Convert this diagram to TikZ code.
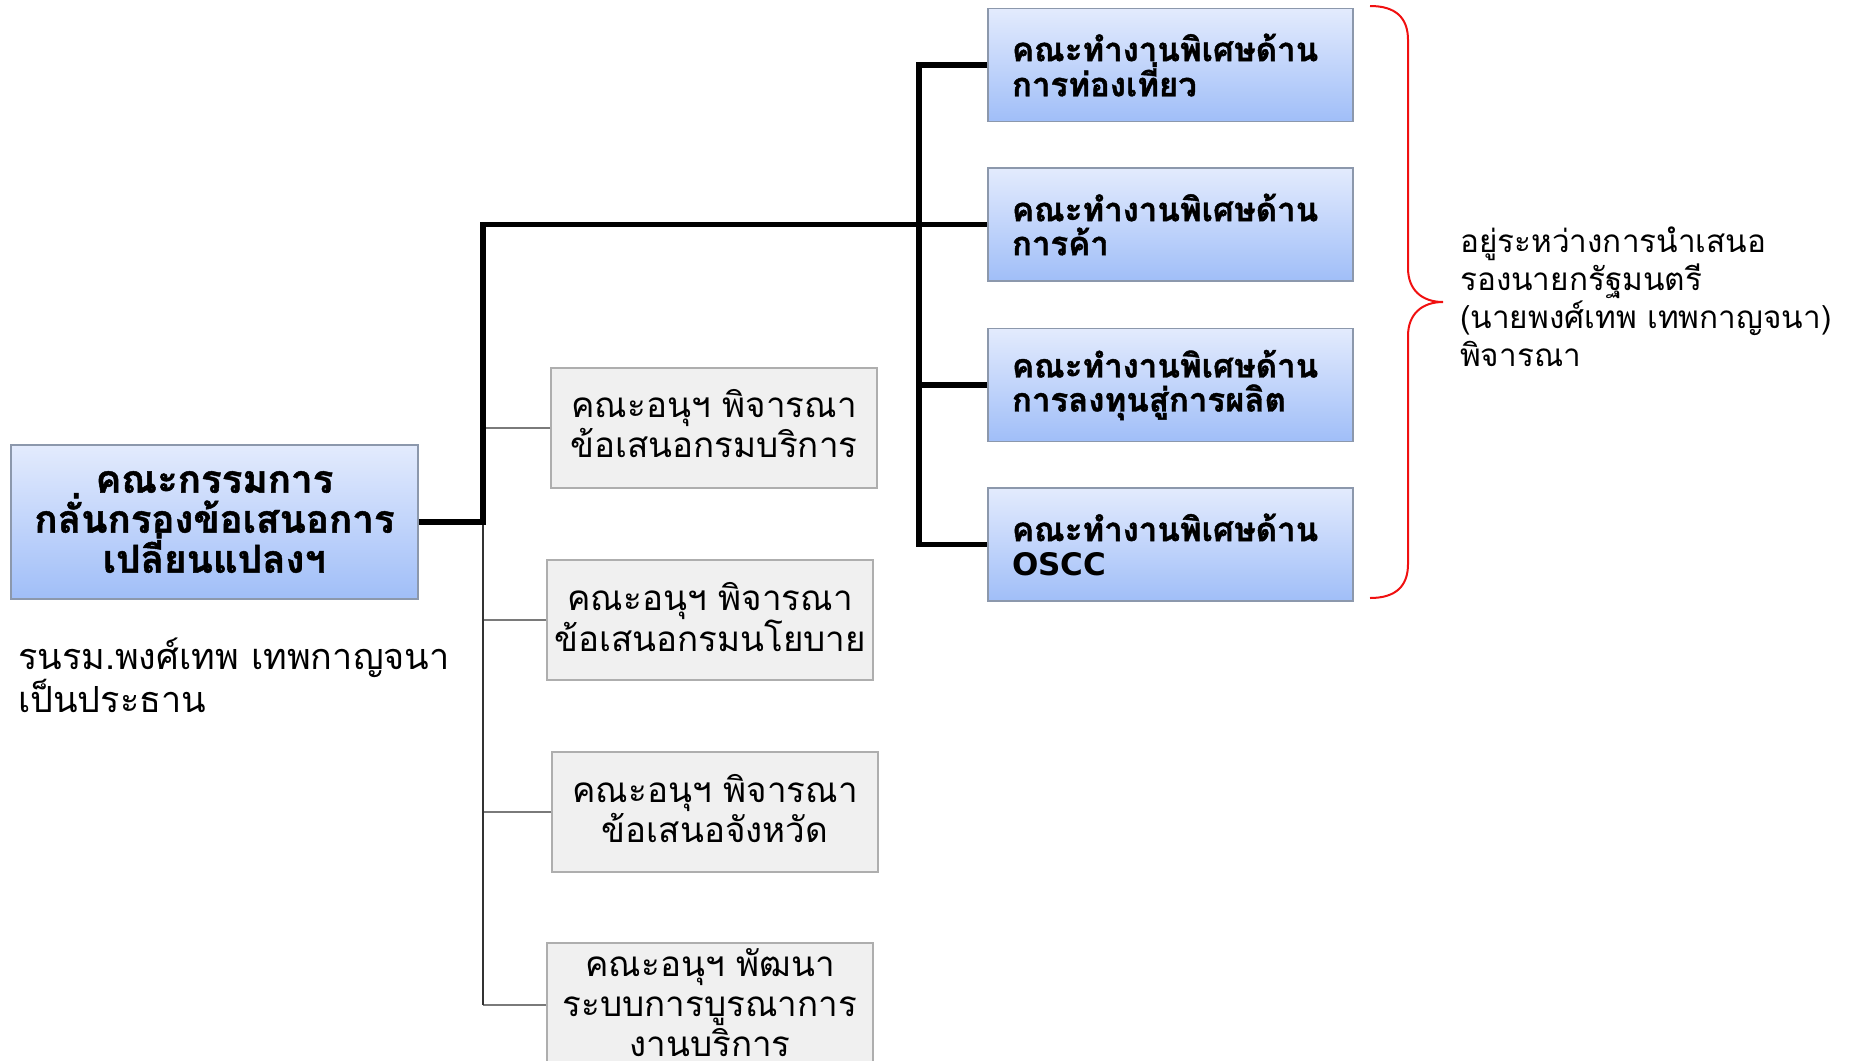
\documentclass[tikz,border=0pt]{standalone}
\usepackage{fontspec}
\newfontfamily\thai[Script=Thai, BoldFeatures={FakeBold=1.2}]{Loma}
\newfontfamily\latin{DejaVu Sans}
\definecolor{bluetop}{HTML}{E3EBFD}
\definecolor{bluebot}{HTML}{A0BEF8}
\definecolor{blueborder}{HTML}{8C98AC}
\definecolor{subfill}{HTML}{F0F0F0}
\definecolor{subborder}{HTML}{AEAEAE}
\definecolor{thinline}{HTML}{7A7A7A}
\definecolor{thinvert}{HTML}{333333}
\definecolor{bracered}{HTML}{F01010}
\tikzset{
  bluebox/.style={draw=blueborder, line width=1.3pt, top color=bluetop, bottom color=bluebot, inner sep=0pt},
  rightbox/.style={bluebox, minimum width=365, minimum height=113, text width=317, inner xsep=24, align=left, font=\thai\bfseries\fontsize{33}{34}\selectfont},
  subbox/.style={draw=subborder, line width=1.3pt, fill=subfill, inner sep=0pt, minimum width=326, minimum height=120},
  subtext/.style={inner sep=0pt, align=center, font=\thai\fontsize{35}{40}\selectfont},
  thickline/.style={line width=5.5pt, black},
  thinbus/.style={line width=1.2pt, thinline},
  thinvbus/.style={line width=1.3pt, thinvert},
  bracestyle/.style={line width=2pt, bracered}
}
\begin{document}
\begin{tikzpicture}[x=1pt,y=-1pt]
\useasboundingbox (0,0) rectangle (1852,1060);
% main box
\node[bluebox, minimum width=407, minimum height=154, align=center, font=\thai\bfseries\fontsize{38.5}{40}\selectfont] (main) at (214.5,522) {คณะกรรมการ\\กลั่นกรองข้อเสนอการ\\เปลี่ยนแปลงฯ};
\node[anchor=west, align=left, inner sep=0pt, font=\thai\fontsize{36}{43}\selectfont] (chair) at (18,675) {รนรม.พงศ์เทพ เทพกาญจนา\\เป็นประธาน};
% right boxes
\node[rightbox] (r1) at (1170.5,65) {คณะทำงานพิเศษด้าน\\การท่องเที่ยว};
\node[rightbox] (r2) at (1170.5,224.5) {คณะทำงานพิเศษด้าน\\การค้า};
\node[rightbox] (r3) at (1170.5,385) {คณะทำงานพิเศษด้าน\\การลงทุนสู่การผลิต};
\node[rightbox] (r4) at (1170.5,544.5) {คณะทำงานพิเศษด้าน\\{\latin\bfseries\fontsize{31}{34}\selectfont OSCC}};
% sub boxes
\node[subbox] (sa) at (714,428) {};
\node[subbox] (sb) at (710,620) {};
\node[subbox] (sc) at (715,812) {};
\node[subbox, minimum height=124] (sd) at (710,1005) {};
\node[subtext] (ta) at ([yshift=4]sa.center) {คณะอนุฯ พิจารณา\\ข้อเสนอกรมบริการ};
\node[subtext] (tb) at ([yshift=3]sb.center) {คณะอนุฯ พิจารณา\\ข้อเสนอกรมนโยบาย};
\node[subtext] (tc) at ([yshift=3]sc.center) {คณะอนุฯ พิจารณา\\ข้อเสนอจังหวัด};
\node[subtext] (td) at ([yshift=2]sd.center) {คณะอนุฯ พัฒนา\\ระบบการบูรณาการ\\งานบริการ};
% junctions
\coordinate (j1) at (483,522);
\coordinate (j2) at (483,224.5);
\coordinate (bus) at (919,544.5);
% thin connectors
\draw[thinbus] (sa.west) -- (sa.west -| j1);
\draw[thinbus] (sb.west) -- (sb.west -| j1);
\draw[thinbus] (sc.west) -- (sc.west -| j1);
\draw[thinbus] (sd.west) -- (sd.west -| j1);
\draw[thinvbus] (j1) -- (sd.west -| j1);
% thick connectors
\draw[thickline] (main.east) -- (j1) -- (j2) -- (r2.west);
\draw[thickline] (r1.west) -| (bus) -- (r4.west);
\draw[thickline] (r3.west) -- (r3.west -| bus);
% brace
\draw[bracestyle] (1370,6) .. controls (1396,6) and (1408,18) .. (1408,40) -- (1408,268) .. controls (1408,290) and (1422,302) .. (1443,302) .. controls (1422,302) and (1408,314) .. (1408,336) -- (1408,564) .. controls (1408,586) and (1396,598) .. (1370,598);
\node[anchor=west, align=left, inner sep=0pt, font=\thai\fontsize{31.5}{38}\selectfont] (note) at (1460,297) {อยู่ระหว่างการนำเสนอ\\รองนายกรัฐมนตรี\\(นายพงศ์เทพ เทพกาญจนา)\\พิจารณา};
\end{tikzpicture}
\end{document}
